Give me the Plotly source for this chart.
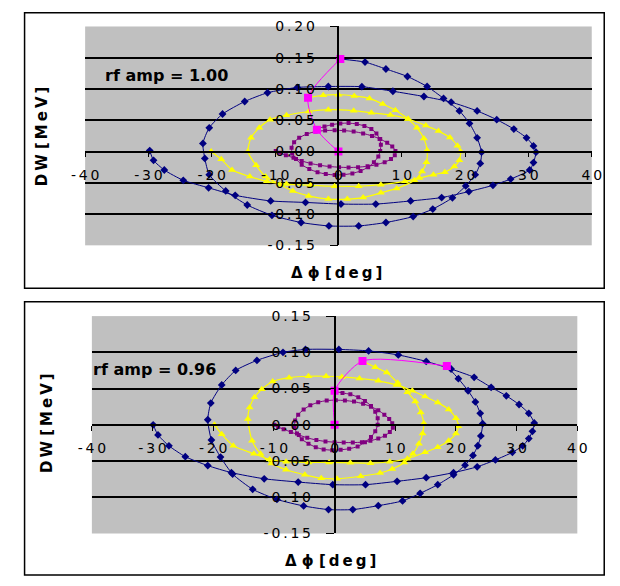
import plotly.graph_objects as go

W, H = 620, 586

# ---------------- data: panel 1 (rf amp = 1.00) ----------------
p1_blue_x = [0.3, 4.2, 7.5, 10.9, 14.0, 16.6, 19.1, 20.7, 21.9, 22.6, 22.4, 21.6, 20.1, 18.0, 14.9, 11.8, 7.5, 3.2,
             -1.5, -5.9, -10.5, -14.4, -17.8, -20.4, -21.1, -21.4, -20.4, -18.3, -14.8, -11.2, -6.5, -1.6,
             3.7, 8.6, 13.5, 17.8, 21.9, 25.0, 27.7, 29.7, 30.8, 31.2, 30.8, 30.2, 27.2, 24.4, 20.6, 16.3, 11.4, 5.9, 0.4,
             -5.2, -10.7, -16.3, -20.5, -24.5, -27.5, -29.2, -29.8]
p1_blue_y = [0.148, 0.143, 0.132, 0.120, 0.104, 0.085, 0.065, 0.045, 0.022, -0.001, -0.019, -0.037, -0.055, -0.074,
             -0.092, -0.104, -0.1135, -0.119, -0.119, -0.1135, -0.102, -0.0855, -0.063, -0.037, -0.011, 0.013, 0.038,
             0.060, 0.080, 0.094, 0.1025, 0.104, 0.1037, 0.0964, 0.088, 0.079, 0.065, 0.051, 0.036, 0.022, 0.009,
             -0.001, -0.0176, -0.0295, -0.044, -0.054, -0.064, -0.0736, -0.079, -0.084, -0.084, -0.0814, -0.079,
             -0.070, -0.058, -0.046, -0.0295, -0.014, 0.0016]

p1_yellow_x = [-4.8, -2.4, 0.0, 2.5, 4.9, 7.0, 9.0, 11.0, 12.4, 13.5, 14.0, 13.9, 13.2, 12.0, 9.2, 6.7, 3.9, 1.4,
               -1.6, -4.7, -7.2, -9.2, -11.5, -13.0, -14.3, -13.8, -12.5, -10.8, -8.2, -4.7, -1.6, 2.4, 5.2, 8.2,
               11.0, 13.8, 15.8, 17.6, 18.8, 19.3, 19.1, 18.3, 16.8, 15.0, 12.8, 10.5, 6.7, 3.2, -0.6, -4.4, -8.2,
               -11.3, -14.0, -16.8, -18.5, -20.1]
p1_yellow_y = [0.086, 0.090, 0.091, 0.089, 0.085, 0.076, 0.066, 0.052, 0.038, 0.021, 0.002, -0.017, -0.032, -0.046,
               -0.059, -0.066, -0.0736, -0.076, -0.076, -0.071, -0.063, -0.053, -0.040, -0.022, 0.0, 0.022, 0.038,
               0.051, 0.058, 0.064, 0.067, 0.0653, 0.062, 0.0586, 0.052, 0.0415, 0.0327, 0.0223, 0.0093, 0.0, -0.014,
               -0.024, -0.033, -0.037, -0.0425, -0.0477, -0.053, -0.0555, -0.0555, -0.054, -0.052, -0.0477, -0.040,
               -0.0295, -0.0125, 0.0]

p1_purple_x = [-3.4, -2.2, -1.0, 0.3, 1.6, 2.9, 4.1, 5.2, 6.0, 6.5, 6.7, 6.6, 6.3, 5.6, 4.7, 3.5, 2.2, 0.8, -0.6,
               -2.0, -3.3, -4.6, -5.8, -6.7, -7.3, -7.4, -7.0, -6.2, -5.0, -3.6, -2.1, -0.6, 0.9, 2.4, 3.9, 5.3, 6.6,
               7.7, 8.5, 9.0, 8.9, 8.3, 7.3, 6.0, 4.6, 3.1, 1.6, 0.1, -1.4, -2.9, -4.4, -5.8, -7.1, -8.3, -9.3, -9.9]
p1_purple_y = [0.036, 0.040, 0.043, 0.045, 0.0455, 0.044, 0.041, 0.036, 0.029, 0.020, 0.011, 0.001, -0.008, -0.017,
               -0.025, -0.031, -0.035, -0.037, -0.0375, -0.036, -0.033, -0.028, -0.021, -0.012, -0.003, 0.006, 0.015,
               0.022, 0.028, 0.032, 0.0335, 0.034, 0.0335, 0.032, 0.029, 0.025, 0.020, 0.014, 0.008, 0.001, -0.006,
               -0.012, -0.017, -0.021, -0.0235, -0.025, -0.0255, -0.025, -0.024, -0.022, -0.019, -0.015, -0.010,
               -0.006, -0.002, 0.001]

p1_magenta_x = [0.0, -3.4, -4.8, 0.3]
p1_magenta_y = [0.0, 0.035, 0.086, 0.148]

# ---------------- data: panel 2 (rf amp = 0.96) ----------------
p2_blue_x = [18.5, 20.4, 22.0, 23.2, 24.0, 24.4, 24.1, 23.6, 22.8, 21.5, 19.6, 17.0, 14.1, 11.2, 7.2, 3.0, -1.0,
             -5.1, -9.5, -13.5, -16.8, -18.8, -20.3, -20.9, -20.4, -18.6, -16.3, -12.8, -8.5, -4.8, 0.7, 5.6, 10.5,
             15.1, 19.2, 23.0, 25.8, 28.3, 30.4, 32.0, 32.9, 32.6, 32.0, 31.0, 29.3, 26.5, 23.5, 19.6, 15.1, 10.3,
             5.1, -0.3, -6.0, -11.6, -17.0, -20.9, -24.6, -27.3, -29.1, -29.9]
p2_blue_y = [0.081, 0.0636, 0.047, 0.0315, 0.0159, 0.0016, -0.0154, -0.0289, -0.0423, -0.0557, -0.069, -0.0826,
             -0.0946, -0.105, -0.1116, -0.117, -0.117, -0.112, -0.103, -0.089, -0.068, -0.0445, -0.021, 0.007, 0.030,
             0.055, 0.075, 0.0889, 0.100, 0.104, 0.104, 0.102, 0.0964, 0.0875, 0.077, 0.0655, 0.0517, 0.040, 0.028,
             0.0158, 0.0025, -0.009, -0.019, -0.029, -0.038, -0.0485, -0.058, -0.066, -0.073, -0.078, -0.0826,
             -0.0826, -0.079, -0.0745, -0.066, -0.0563, -0.044, -0.029, -0.014, 0.0]

p2_yellow_x = [4.5, 6.7, 8.6, 10.4, 12.0, 13.3, 14.2, 14.7, 14.5, 13.9, 12.9, 11.5, 9.5, 7.5, 4.3, 0.4, -2.2, -4.9,
               -8.0, -10.4, -12.2, -13.6, -14.3, -14.0, -13.2, -12.0, -10.2, -7.5, -4.3, -1.4, 1.2, 4.1, 7.2, 10.2,
               12.8, 14.9, 17.0, 18.8, 20.0, 20.4, 20.0, 18.8, 17.0, 14.9, 12.0, 9.1, 5.9, 2.6, -0.9, -4.3, -8.0,
               -10.7, -13.3, -16.7, -18.6, -19.8]
p2_yellow_y = [0.0884, 0.0795, 0.072, 0.058, 0.045, 0.032, 0.017, 0.002, -0.012, -0.026, -0.040, -0.052, -0.061,
               -0.0665, -0.071, -0.0745, -0.0736, -0.069, -0.062, -0.0535, -0.040, -0.022, 0.008, 0.024, 0.038, 0.049,
               0.0597, 0.065, 0.067, 0.067, 0.066, 0.064, 0.0607, 0.055, 0.047, 0.039, 0.0306, 0.0212, 0.009, -0.002,
               -0.012, -0.022, -0.031, -0.038, -0.0467, -0.051, -0.053, -0.0525, -0.052, -0.052, -0.051, -0.0478,
               -0.040, -0.029, -0.013, 0.0]

p2_purple_x = [0.0, 1.3, 2.6, 3.9, 5.0, 6.0, 6.7, 7.1, 7.1, 6.7, 6.0, 5.0, 3.8, 2.4, 1.0, -0.4, -1.8, -3.1, -4.3,
               -5.4, -6.2, -6.6, -6.5, -6.0, -5.1, -4.0, -2.7, -1.3, 0.2, 1.7, 3.2, 4.7, 6.0, 7.2, 8.2, 9.0, 9.5, 9.6,
               9.1, 8.3, 7.2, 5.9, 4.5, 3.0, 1.5, 0.0, -1.5, -3.0, -4.5, -5.9, -7.2, -8.4, -9.3, -9.9]
p2_purple_y = [0.046, 0.044, 0.042, 0.038, 0.033, 0.026, 0.018, 0.009, 0.0, -0.009, -0.017, -0.024, -0.030, -0.033,
               -0.0345, -0.035, -0.034, -0.031, -0.026, -0.020, -0.012, -0.003, 0.006, 0.014, 0.021, 0.027, 0.031,
               0.0335, 0.034, 0.0335, 0.032, 0.029, 0.025, 0.020, 0.014, 0.008, 0.002, -0.004, -0.010, -0.015, -0.019,
               -0.022, -0.024, -0.0245, -0.0245, -0.024, -0.023, -0.021, -0.018, -0.014, -0.010, -0.006, -0.003, 0.0]

p2_magenta_x = [0.0, 0.0, 4.6, 18.5]
p2_magenta_y = [0.0, 0.047, 0.088, 0.081]

# ---------------- ticks / labels ----------------
x_tickvals = [-40, -30, -20, -10, 0, 10, 20, 30, 40]
x_ticklabels = ["-40", "-30", "-20", "-10", "0", "10", "20", "30", "40"]
y1_tickvals = [-0.15, -0.10, -0.05, 0.00, 0.05, 0.10, 0.15, 0.20]
y1_ticklabels = ["-0.15", "-0.10", "-0.05", "0.00", "0.05", "0.10", "0.15", "0.20"]
y2_tickvals = [-0.15, -0.10, -0.05, 0.00, 0.05, 0.10, 0.15]
y2_ticklabels = ["-0.15", "-0.10", "-0.05", "0.00", "0.05", "0.10", "0.15"]
panel_labels = ["rf amp = 1.00", "rf amp = 0.96"]
x_title = "Δ ϕ [deg]"
y_title = "DW [MeV]"

THIN = "\u2009"


def spaced(s):
    return THIN.join(s)


def spaced_words(s):
    # widen letter spacing inside words (the reference is set very loosely)
    return " ".join(THIN.join(w) for w in s.split(" "))


def fx(px):
    return px / W


def fy(py):
    return 1 - py / H


FONT = "DejaVu Sans"
NAVY, YEL, PUR, MAG = "#000080", "#FFFF00", "#800080", "#FF00FF"

fig = go.Figure()


def add_panel(n, bx, by, yx, yy, px_, py_, mx, my):
    xa = "x" if n == 1 else "x2"
    ya = "y" if n == 1 else "y2"
    fig.add_trace(go.Scatter(x=bx, y=by, xaxis=xa, yaxis=ya, mode="lines+markers",
                             line=dict(color=NAVY, width=1, shape="spline", smoothing=0.6),
                             marker=dict(symbol="diamond", size=6, color=NAVY), showlegend=False))
    fig.add_trace(go.Scatter(x=yx, y=yy, xaxis=xa, yaxis=ya, mode="lines+markers",
                             line=dict(color=YEL, width=1.2, shape="spline", smoothing=0.6),
                             marker=dict(symbol="triangle-up", size=7, color=YEL), showlegend=False))
    fig.add_trace(go.Scatter(x=px_, y=py_, xaxis=xa, yaxis=ya, mode="lines+markers",
                             line=dict(color=PUR, width=1, shape="spline", smoothing=0.6),
                             marker=dict(symbol="square", size=4, color=PUR), showlegend=False))
    fig.add_trace(go.Scatter(x=mx, y=my, xaxis=xa, yaxis=ya, mode="lines+markers",
                             line=dict(color=MAG, width=1, shape="spline", smoothing=0.7),
                             marker=dict(symbol="square", size=8, color=MAG), showlegend=False))


add_panel(1, p1_blue_x, p1_blue_y, p1_yellow_x, p1_yellow_y, p1_purple_x, p1_purple_y, p1_magenta_x, p1_magenta_y)
add_panel(2, p2_blue_x, p2_blue_y, p2_yellow_x, p2_yellow_y, p2_purple_x, p2_purple_y, p2_magenta_x, p2_magenta_y)

# panel geometry (pixels)
P1 = dict(l=74, r=601, t=19, b=244, yr=[-0.15, 0.20])
P2 = dict(l=81, r=586, t=316.75, b=540.25, yr=[-0.15, 0.15])


def axes(P, ytv, ytl):
    xd = [fx(P["l"]), fx(P["r"])]
    yd = [fy(P["b"]), fy(P["t"])]
    y0, y1 = P["yr"]
    xpos = yd[0] + (0 - y0) / (y1 - y0) * (yd[1] - yd[0])
    ypos = xd[0] + 0.5 * (xd[1] - xd[0])
    xaxis = dict(domain=xd, range=[-40, 40], anchor="free", position=xpos, showline=True, linecolor="black",
                 linewidth=1.5, ticks="outside", ticklen=5, tickwidth=1.2, tickcolor="black",
                 tickvals=x_tickvals, ticktext=[spaced(s) for s in x_ticklabels],
                 tickfont=dict(family=FONT, size=14, color="black"), showgrid=False, zeroline=False,
                 ticklabelstandoff=6, fixedrange=True)
    yaxis = dict(domain=yd, range=P["yr"], anchor="free", position=ypos, showline=True, linecolor="black",
                 linewidth=1.5, ticks="outside", ticklen=8, tickwidth=1.2, tickcolor="black",
                 tickvals=ytv, ticktext=[spaced(s) for s in ytl],
                 tickfont=dict(family=FONT, size=14, color="black"), showgrid=True, gridcolor="black",
                 gridwidth=1.5, zeroline=False, ticklabelstandoff=12, fixedrange=True)
    return xaxis, yaxis


xa1, ya1 = axes(P1, y1_tickvals, y1_ticklabels)
xa2, ya2 = axes(P2, y2_tickvals, y2_ticklabels)

shapes = [
    dict(type="rect", xref="paper", yref="paper", x0=fx(11), x1=fx(614), y0=fy(288), y1=fy(5),
         line=dict(color="black", width=1.5), fillcolor="rgba(0,0,0,0)", layer="below"),
    dict(type="rect", xref="paper", yref="paper", x0=fx(11), x1=fx(614), y0=fy(583), y1=fy(302),
         line=dict(color="black", width=1.5), fillcolor="rgba(0,0,0,0)", layer="below"),
]

bold = dict(family=FONT, size=15, color="black", weight="bold")
bold16 = dict(family=FONT, size=16, color="black", weight="bold")
annotations = [
    dict(text=panel_labels[0], xref="paper", yref="paper", x=fx(159), y=fy(69),
         xanchor="center", yanchor="middle", showarrow=False, font=bold16),
    dict(text=panel_labels[1], xref="paper", yref="paper", x=fx(146), y=fy(372),
         xanchor="center", yanchor="middle", showarrow=False, font=bold16),
    dict(text=spaced_words(x_title), xref="paper", yref="paper", x=fx(336), y=fy(272), xanchor="center",
         yanchor="middle", showarrow=False, font=bold),
    dict(text=spaced_words(x_title), xref="paper", yref="paper", x=fx(329), y=fy(569), xanchor="center",
         yanchor="middle", showarrow=False, font=bold),
    dict(text=spaced_words(y_title), xref="paper", yref="paper", x=fx(30), y=fy(132), xanchor="center",
         yanchor="middle", textangle=-90, showarrow=False, font=bold),
    dict(text=spaced_words(y_title), xref="paper", yref="paper", x=fx(35), y=fy(427), xanchor="center",
         yanchor="middle", textangle=-90, showarrow=False, font=bold),
]

fig.update_layout(width=W, height=H, margin=dict(l=0, r=0, t=0, b=0), autosize=False,
                  paper_bgcolor="white", plot_bgcolor="#C0C0C0",
                  xaxis=xa1, yaxis=ya1, xaxis2=xa2, yaxis2=ya2,
                  shapes=shapes, annotations=annotations, showlegend=False)

fig.write_html("out.html")
